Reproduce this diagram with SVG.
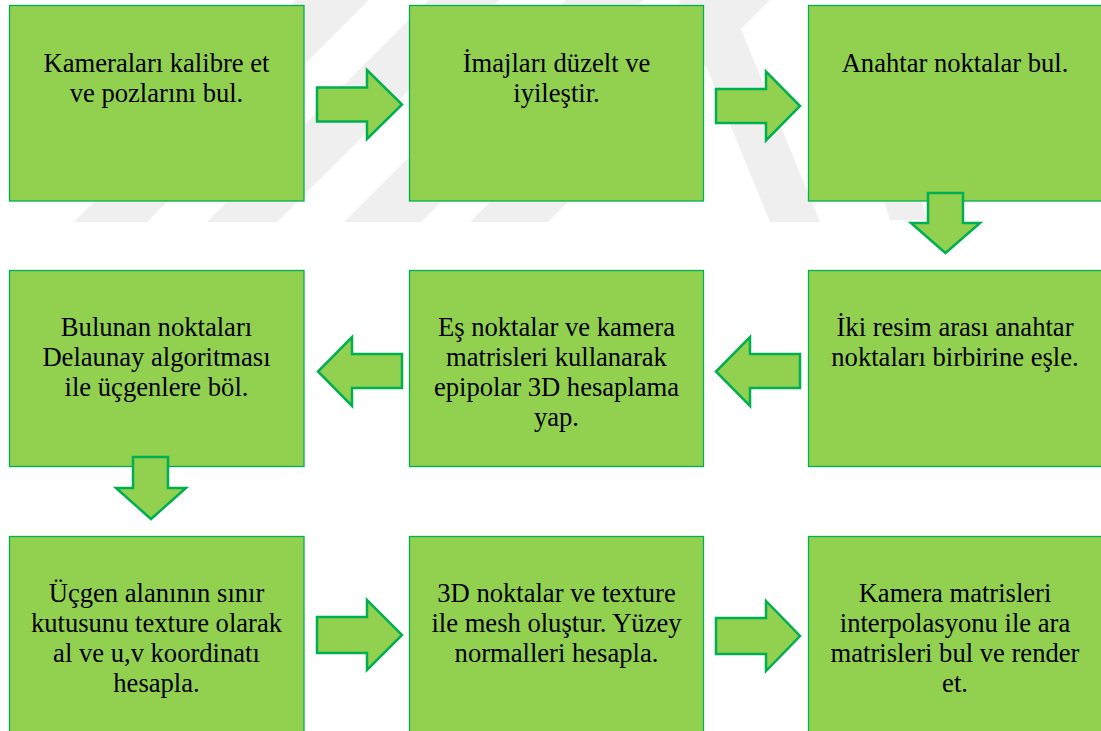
<svg xmlns="http://www.w3.org/2000/svg" width="1101" height="731" viewBox="0 0 1101 731">
<style>
.box{fill:#92D050;stroke:#00B050;stroke-width:1.3}
.arr{fill:#92D050;stroke:#00B050;stroke-width:2.5;stroke-linejoin:miter}
.wm{fill:#efefef}
</style>
<rect width="1101" height="731" fill="#ffffff"/>
<g id="watermark">
<polygon class="wm" points="74,222 147,222 369,0 296,0"/>
<polygon class="wm" points="207,222 277,222 499,0 429,0"/>
<polygon class="wm" points="344,222 421,222 643,0 566,0"/>
<polygon class="wm" points="470,222 548,222 770,0 692,0"/>
<polygon class="wm" points="679,0 729,0 820,222 770,222"/>
<polygon class="wm" points="830,20 870,20 927,220 890,220"/>
</g>
<g font-family="Liberation Serif" font-size="26.6" fill="#000000" text-anchor="middle">
<g id="n1"><rect class="box" x="9.5" y="5.5" width="294.5" height="195.5"/><text x="156.5" y="71.5">Kameraları kalibre et</text><text x="156.5" y="101.5">ve pozlarını bul.</text></g>
<g id="n2"><rect class="box" x="409.5" y="5.5" width="294" height="195.5"/><text x="556.5" y="71.5">İmajları düzelt ve</text><text x="556.5" y="101.5">iyileştir.</text></g>
<g id="n3"><rect class="box" x="808.5" y="5.5" width="295" height="195.5"/><text x="955" y="71.5">Anahtar noktalar bul.</text></g>
<g id="n4"><rect class="box" x="9.5" y="270.5" width="294.5" height="196"/><text x="156.5" y="335.5">Bulunan noktaları</text><text x="156.5" y="365.5">Delaunay algoritması</text><text x="156.5" y="395.5">ile üçgenlere böl.</text></g>
<g id="n5"><rect class="box" x="409.5" y="270.5" width="294" height="196"/><text x="556.5" y="335.5">Eş noktalar ve kamera</text><text x="556.5" y="365.5">matrisleri kullanarak</text><text x="556.5" y="395.5">epipolar 3D hesaplama</text><text x="556.5" y="425.5">yap.</text></g>
<g id="n6"><rect class="box" x="808.5" y="270.5" width="295" height="196"/><text x="955" y="335.5">İki resim arası anahtar</text><text x="955" y="365.5">noktaları birbirine eşle.</text></g>
<g id="n7"><rect class="box" x="9.5" y="536.5" width="294.5" height="200"/><text x="156.5" y="601.5">Üçgen alanının sınır</text><text x="156.5" y="631.5">kutusunu texture olarak</text><text x="156.5" y="661.5">al ve u,v koordinatı</text><text x="156.5" y="692">hesapla.</text></g>
<g id="n8"><rect class="box" x="409.5" y="536.5" width="294" height="200"/><text x="556.5" y="601.5">3D noktalar ve texture</text><text x="556.5" y="631.5">ile mesh oluştur. Yüzey</text><text x="556.5" y="661.5">normalleri hesapla.</text></g>
<g id="n9"><rect class="box" x="808.5" y="536.5" width="295" height="200"/><text x="955" y="601.5">Kamera matrisleri</text><text x="955" y="631.5">interpolasyonu ile ara</text><text x="955" y="661.5">matrisleri bul ve render</text><text x="955" y="692">et.</text></g>
</g>
<g id="connectors">
<polygon class="arr" points="317,87.5 367,87.5 367,70 402,104.5 367,139 367,121.5 317,121.5"/>
<polygon class="arr" points="716,89 766,89 766,71.5 800,106 766,140.5 766,123 716,123"/>
<polygon class="arr" points="928,193 963,193 963,223 980,223 945.5,253 911,223 928,223"/>
<polygon class="arr" points="800,354 750,354 750,337 716,371.5 750,406 750,388 800,388"/>
<polygon class="arr" points="402,354 352,354 352,337 318,371.5 352,406 352,388 402,388"/>
<polygon class="arr" points="133,457 168,457 168,488 186,488 151,519 116,488 133,488"/>
<polygon class="arr" points="317,617 367,617 367,600 402,635 367,670 367,653 317,653"/>
<polygon class="arr" points="716,618 766,618 766,601 800,636 766,671 766,654 716,654"/>
</g>
</svg>
